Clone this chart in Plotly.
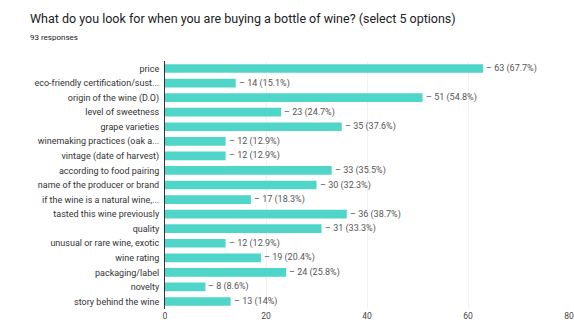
import plotly.graph_objects as go

categories = [
    "price",
    "eco-friendly certification/sust...",
    "origin of the wine (D.O)",
    "level of sweetness",
    "grape varieties",
    "winemaking practices (oak a...",
    "vintage (date of harvest)",
    "according to food pairing",
    "name of the producer or brand",
    "if the wine is a natural wine,...",
    "tasted this wine previously",
    "quality",
    "unusual or rare wine, exotic",
    "wine rating",
    "packaging/label",
    "novelty",
    "story behind the wine",
]
values = [63, 14, 51, 23, 35, 12, 12, 33, 30, 17, 36, 31, 12, 19, 24, 8, 13]
total_responses = 93
x_ticks = [0, 20, 40, 60, 80]

labels = [f"{v} ({round(v / total_responses * 100, 1):g}%)" for v in values]

fig = go.Figure()
fig.add_trace(go.Bar(
    x=values, y=categories, orientation="h",
    marker=dict(color="#4fd6c8", line=dict(width=0)),
    hoverinfo="skip",
))

for c, v, t in zip(categories, values, labels):
    fig.add_annotation(
        x=v, y=c, xref="x", yref="y", text="\u2013 " + t,
        showarrow=False, xanchor="left", yanchor="middle", xshift=1,
        font=dict(family="Roboto, Arial, sans-serif", size=9, color="#555555"),
    )

fig.add_annotation(
    xref="paper", yref="paper", x=-0.338, y=1.0, yshift=43,
    xanchor="left", yanchor="middle", showarrow=False,
    text="What do you look for when you are buying a bottle of wine? (select 5 options)",
    font=dict(family="Roboto, Arial, sans-serif", size=12.5, color="#202124"),
)
fig.add_annotation(
    xref="paper", yref="paper", x=-0.338, y=1.0, yshift=24,
    xanchor="left", yanchor="middle", showarrow=False,
    text=f"{total_responses} responses",
    font=dict(family="Roboto, Arial, sans-serif", size=8, color="#202124"),
)

fig.update_layout(
    width=574, height=327,
    margin=dict(l=165, r=0, t=61, b=18),
    paper_bgcolor="white", plot_bgcolor="white",
    bargap=0.4, showlegend=False,
    xaxis=dict(
        range=[0, 80], tickvals=x_ticks, showgrid=True, gridcolor="#f2f2f2",
        zeroline=False, showline=False, ticks="", ticklabeloverflow="allow",
        tickfont=dict(family="Roboto, Arial, sans-serif", size=8.5, color="#444444"),
    ),
    yaxis=dict(
        autorange="reversed", showline=True, linecolor="#333333", linewidth=1,
        ticks="", ticklabelstandoff=3,
        tickfont=dict(family="Roboto, Arial, sans-serif", size=9, color="#333333"),
    ),
)

fig.write_html("out.html")
